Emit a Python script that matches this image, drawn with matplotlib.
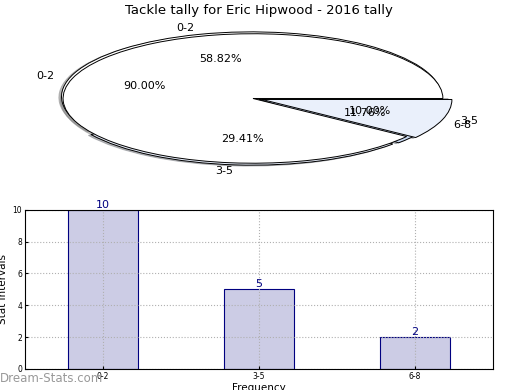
import numpy as np
import matplotlib
matplotlib.use('Agg')
import matplotlib.pyplot as plt

# data
bins = ['0-2', '3-5', '6-8']
counts = [10, 5, 2]
old_labels = ['0-2', '3-5']
old_counts = [9, 1]

fig = plt.figure(figsize=(5.2, 3.9), dpi=100)

# pie part (two overlaid pies, squashed)
ax1 = fig.add_axes([0.03, 0.54, 0.913, 0.415])
ax1.pie(counts, labels=bins, autopct='%1.2f%%', shadow={'ox': -0.01, 'oy': -0.01, 'shade': 0.5},
        explode=(0.03, 0.03, 0.03),
        colors=['white', '#e8eefa', '#c9d9f2'],
        wedgeprops={'edgecolor': 'black', 'linewidth': 0.7},
        textprops={'fontsize': 8})
ax1.pie(old_counts, labels=old_labels, autopct='%1.2f%%', shadow={'ox': -0.01, 'oy': -0.01, 'shade': 0.5},
        explode=(0, 0.05),
        colors=['white', '#eaf0fb'],
        wedgeprops={'edgecolor': 'black', 'linewidth': 0.7},
        textprops={'fontsize': 8})
ax1.set_aspect('auto')
ax1.set_xlim(-1.25, 1.25)
ax1.set_ylim(-1.25, 1.25)
fig.text(0.497, 0.973, 'Tackle tally for Eric Hipwood - 2016 tally', fontsize=9.5,
         ha='center', va='center')

# bar part
ax2 = fig.add_axes([0.048, 0.054, 0.9, 0.408])
x = np.arange(len(bins))
ax2.bar(x, counts, width=0.45, color='#ccccE5', edgecolor='navy', linewidth=0.8)
for xi, c in zip(x, counts):
    ax2.text(xi, c, str(c), ha='center', va='bottom', color='navy', fontsize=8)
ax2.set_xlim(-0.5, 2.5)
ax2.set_ylim(0, 10)
ax2.set_yticks(range(0, 11, 2))
ax2.set_xticks(x)
ax2.set_xticklabels(bins)
ax2.tick_params(labelsize=5.5, direction='in', length=2, top=False, right=False, pad=2)
ax2.grid(True, linestyle=':', color='#b0b0b0', linewidth=0.8)
ax2.set_axisbelow('line')
ax2.set_xlabel('Frequency', fontsize=7.5, labelpad=2)
ax2.set_ylabel('Stat Intervals', fontsize=7.5)
ax2.yaxis.set_label_coords(-0.036, 0.5)

fig.text(0.0, 0.012, 'Dream-Stats.com', color='#999999', fontsize=8.5, ha='left', va='bottom')

fig.savefig('out.png', dpi=100)
